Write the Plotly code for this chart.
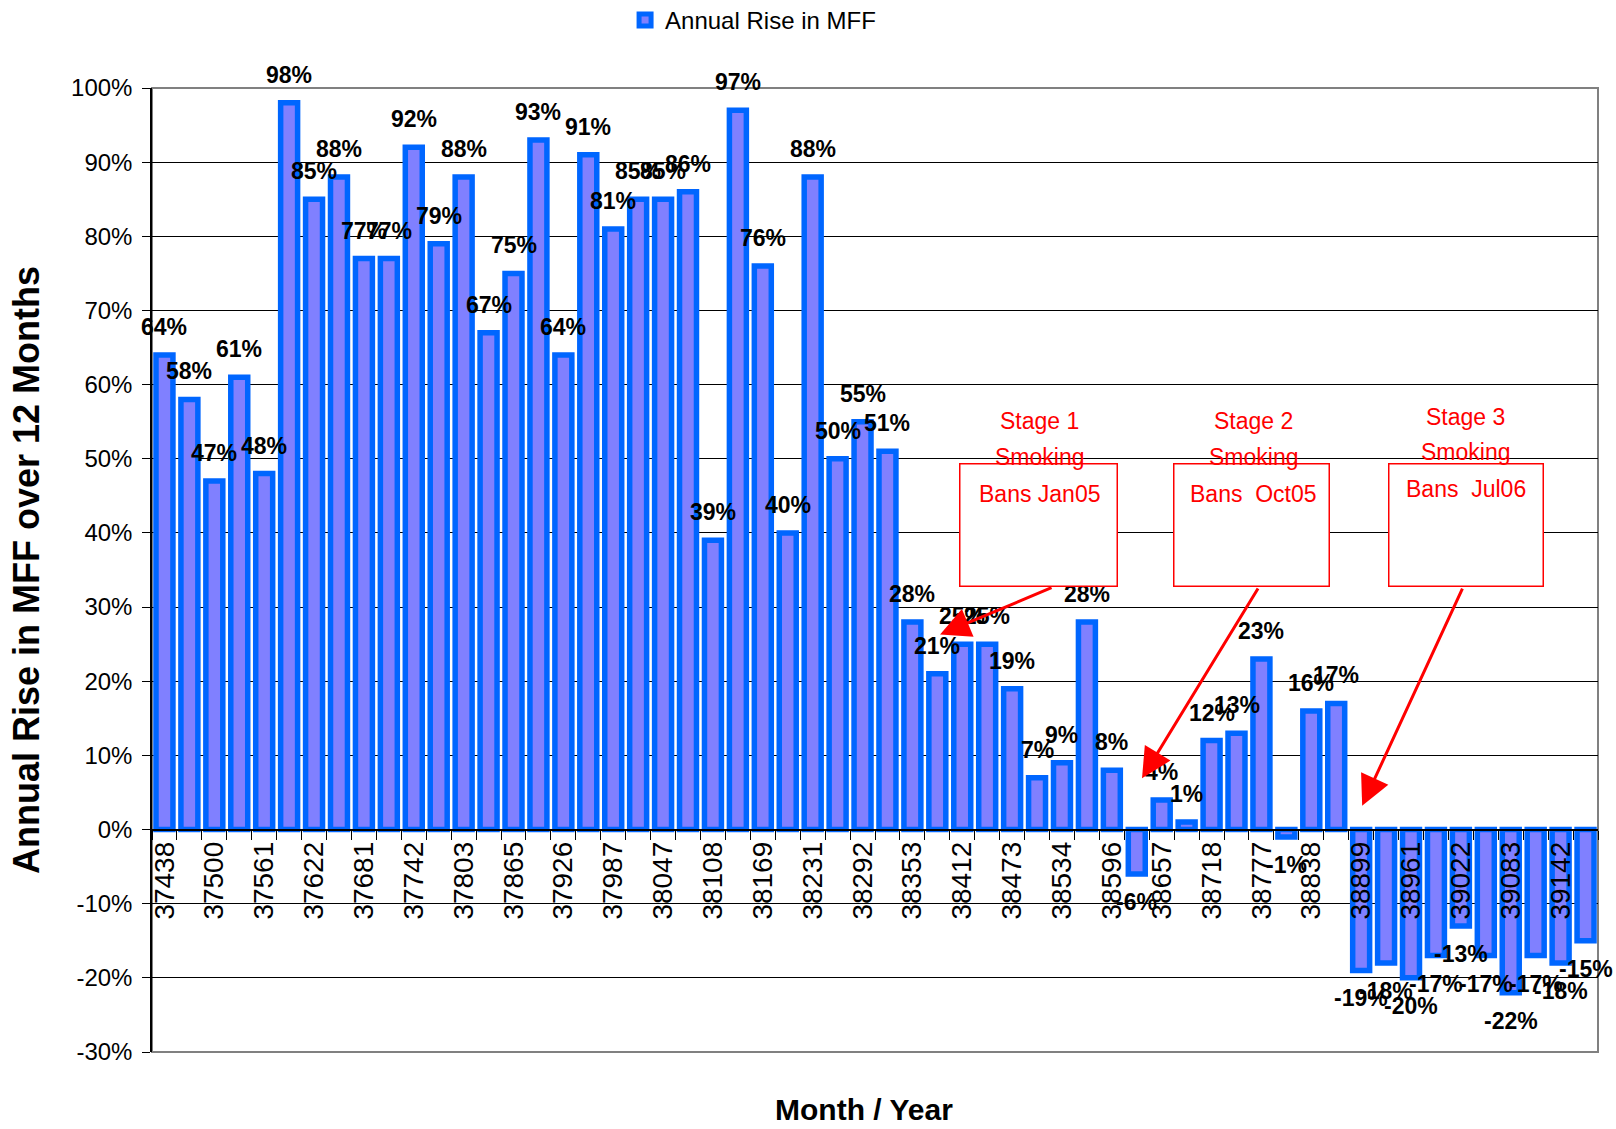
import plotly.graph_objects as go

# ---------------- data ----------------
categories = [37438, 37469, 37500, 37530, 37561, 37591, 37622, 37653, 37681, 37712,
              37742, 37773, 37803, 37834, 37865, 37895, 37926, 37956, 37987, 38018,
              38047, 38078, 38108, 38139, 38169, 38200, 38231, 38261, 38292, 38322,
              38353, 38384, 38412, 38443, 38473, 38504, 38534, 38565, 38596, 38626,
              38657, 38687, 38718, 38749, 38777, 38808, 38838, 38869, 38899, 38930,
              38961, 38991, 39022, 39052, 39083, 39114, 39142, 39173]

rise_pct = [64, 58, 47, 61, 48, 98, 85, 88, 77, 77,
            92, 79, 88, 67, 75, 93, 64, 91, 81, 85,
            85, 86, 39, 97, 76, 40, 88, 50, 55, 51,
            28, 21, 25, 25, 19, 7, 9, 28, 8, -6,
            4, 1, 12, 13, 23, -1, 16, 17, -19, -18,
            -20, -17, -13, -17, -22, -17, -18, -15]

y_tick_vals = [-30, -20, -10, 0, 10, 20, 30, 40, 50, 60, 70, 80, 90, 100]
y_tick_labels = ["-30%", "-20%", "-10%", "0%", "10%", "20%", "30%", "40%", "50%",
                 "60%", "70%", "80%", "90%", "100%"]

series_name = "Annual Rise in MFF"
y_title = "Annual Rise in MFF over 12 Months"
x_title = "Month / Year"

stage_lines = [["Stage 1", "Smoking", "Bans Jan05"],
               ["Stage 2", "Smoking", "Bans\u00a0 Oct05"],
               ["Stage 3", "Smoking", "Bans\u00a0 Jul06"]]

# ---------------- styling / layout helpers ----------------
FONT = "Liberation Sans, Arial, sans-serif"
FONT_N = "Liberation Sans Narrow, Arial Narrow, Liberation Sans, Arial, sans-serif"
Y_MIN, Y_MAX = -30, 100

x = list(range(len(categories)))
tick_idx = x[::2]
tick_text = [str(categories[i]) for i in tick_idx]
boundaries = [i - 0.5 for i in x] + [x[-1] + 0.5]

fig = go.Figure()
fig.add_trace(go.Bar(
    x=x, y=rise_pct, name=series_name,
    marker=dict(color="#8080FF", line=dict(color="#0066FF", width=5.5)),
    showlegend=True,
))

annotations = []
# data labels
for i, v in zip(x, rise_pct):
    annotations.append(dict(
        x=i, y=v, xref="x", yref="y", text="<b>%d%%</b>" % v, showarrow=False,
        yanchor="bottom" if v >= 0 else "top", yshift=13 if v >= 0 else -13,
        font=dict(family=FONT, size=23, color="black"),
    ))

# stage boxes (centre x in bar units, centre y in % units, width px)
box_specs = [(35.04, 41.1, 156), (43.62, 41.1, 154), (52.19, 41.1, 153)]
for bx, by, bw in box_specs:
    annotations.append(dict(
        x=bx, y=by, xref="x", yref="y", text=" ", showarrow=False,
        width=bw, height=121, bgcolor="white", bordercolor="#FF0000",
        borderwidth=1.5, borderpad=0, xanchor="center", yanchor="middle",
    ))

# stage texts
text_pos = [(35.08, [55.1, 50.2, 45.2]), (43.70, [55.1, 50.2, 45.2]), (52.19, [55.7, 50.9, 45.9])]
for (tx, tys), lines in zip(text_pos, stage_lines):
    for ty, line in zip(tys, lines):
        annotations.append(dict(
            x=tx, y=ty, xref="x", yref="y", text=line, showarrow=False,
            xanchor="center", yanchor="middle",
            font=dict(family=FONT, size=23, color="#FF0000"),
        ))

# arrows: (head x, head y, tail x, tail y)
arrow_specs = [(31.11, 26.3, 35.64, 32.7), (39.21, 6.9, 43.90, 32.7), (48.04, 3.2, 52.09, 32.7)]
for hx, hy, tx, ty in arrow_specs:
    annotations.append(dict(
        x=hx, y=hy, ax=tx, ay=ty, xref="x", yref="y", axref="x", ayref="y",
        text="", showarrow=True, arrowhead=2, arrowsize=2, arrowwidth=3,
        arrowcolor="#FF0000",
    ))

# axis titles
annotations.append(dict(
    x=0.4924, y=-0.060, xref="paper", yref="paper", text="<b>%s</b>" % x_title,
    showarrow=False, xanchor="center", yanchor="middle",
    font=dict(family=FONT_N, size=30, color="black"),
))
annotations.append(dict(
    x=-0.0871, y=0.5, xref="paper", yref="paper", text="<b>%s</b>" % y_title,
    showarrow=False, xanchor="center", yanchor="middle", textangle=-90,
    font=dict(family=FONT, size=36, color="black"),
))

fig.update_layout(
    width=1616, height=1129, autosize=False,
    margin=dict(l=152, r=18, t=88, b=77, pad=0, autoexpand=False),
    paper_bgcolor="white", plot_bgcolor="white",
    bargap=0.32,
    font=dict(family=FONT, color="black"),
    legend=dict(orientation="h", xref="container", yref="container",
                x=0.3868, y=0.982, xanchor="left", yanchor="middle",
                font=dict(family=FONT_N, size=24, color="black"),
                bgcolor="rgba(0,0,0,0)", itemwidth=30),
    annotations=annotations,
    shapes=[dict(type="rect", xref="paper", yref="paper", x0=0, x1=1, y0=0, y1=1,
                 line=dict(color="#808080", width=2), layer="between")],
    xaxis=dict(
        range=[x[0] - 0.5, x[-1] + 0.5], anchor="free",
        position=(0 - Y_MIN) / (Y_MAX - Y_MIN),
        tickmode="array", tickvals=tick_idx, ticktext=tick_text, tickangle=-90,
        ticks="", tickfont=dict(family=FONT, size=28, color="black"),
        ticklabelstandoff=0,
        showline=True, linecolor="black", linewidth=2,
        showgrid=False, zeroline=False,
        minor=dict(tickmode="array", tickvals=boundaries, ticks="outside",
                   ticklen=9, tickcolor="black", tickwidth=1, showgrid=False),
    ),
    yaxis=dict(
        range=[Y_MIN, Y_MAX], tickmode="array", tickvals=y_tick_vals,
        ticktext=y_tick_labels, ticks="outside", ticklen=8, tickcolor="black",
        tickfont=dict(family=FONT, size=24, color="black"),
        ticklabelstandoff=5,
        showline=True, linecolor="black", linewidth=1.5,
        showgrid=True, gridcolor="black", gridwidth=1, zeroline=False,
    ),
)

fig.write_html("out.html", config={"displayModeBar": False},
               post_script="document.body.style.margin='0px';document.body.style.overflow='hidden';")
